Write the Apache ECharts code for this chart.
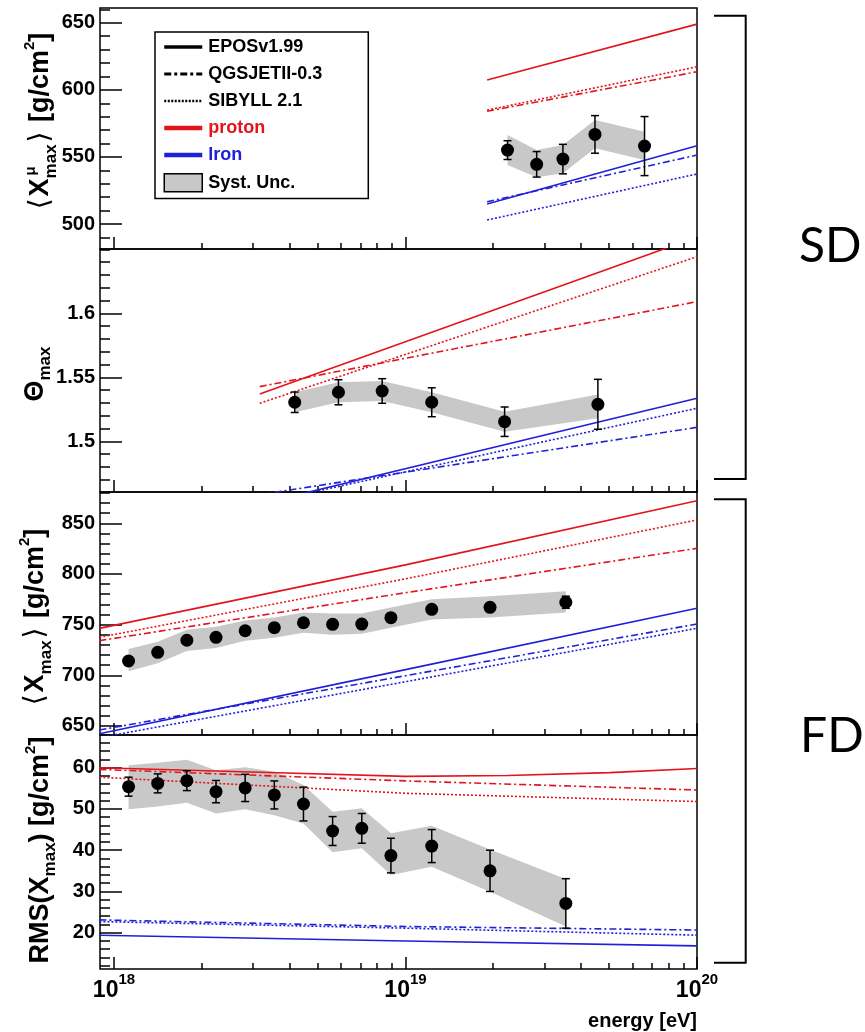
<!DOCTYPE html>
<html><head><meta charset="utf-8">
<script src="https://cdn.jsdelivr.net/npm/echarts@6/dist/echarts.min.js"></script>
<style>html,body{margin:0;padding:0;background:#fff}#c{width:865px;height:1032px}</style>
</head><body><div id="c"></div>
<script>
// ================= DATA =================
// x axis: log10(energy / eV)
const xDecades = [18, 19, 20];
const xDecadeLabels = ['18', '19', '20'];
const xMinorMult = [2, 3, 4, 5, 6, 7, 8, 9];

// ---- Panel 1 : SD <X^mu_max> [g/cm2]
const p1Ticks = [500, 550, 600, 650];
const p1TickLabels = ['500', '550', '600', '650'];
const p1E = [19.35, 19.45, 19.54, 19.65, 19.82];
const p1Val = [555.1, 544.5, 548.4, 566.8, 558.1];
const p1Err = [7, 9.5, 11, 14, 22];
const p1SysLo = [544.0, 534.8, 537.8, 556.4, 547.7];
const p1SysHi = [566.3, 555.1, 558.9, 577.5, 568.8];
const p1ModelE = [19.28, 20.0];
const p1EposP = [607.3, 649.0];
const p1QgsP = [584.0, 613.5];
const p1SibP = [584.9, 617.2];
const p1EposFe = [514.9, 558.3];
const p1QgsFe = [516.6, 551.4];
const p1SibFe = [503.0, 537.3];

// ---- Panel 2 : SD Theta_max
const p2Ticks = [1.5, 1.55, 1.6];
const p2TickLabels = ['1.5', '1.55', '1.6'];
const p2E = [18.62, 18.77, 18.92, 19.09, 19.34, 19.66];
const p2Val = [1.5305, 1.5383, 1.5393, 1.5305, 1.5153, 1.5289];
const p2Err = [0.008, 0.0098, 0.0096, 0.0113, 0.0115, 0.0195];
const p2SysLo = [1.5227, 1.5305, 1.5315, 1.5227, 1.5075, 1.5180];
const p2SysHi = [1.5383, 1.5461, 1.5471, 1.5383, 1.5231, 1.5365];
const p2ModelE = [18.5, 20.0];
const p2EposP = [1.5370, 1.6595];
const p2QgsP = [1.5427, 1.6091];
const p2SibP = [1.5297, 1.6442];
const p2EposFe = [1.4511, 1.5336];
const p2QgsFe = [1.4584, 1.5109];
const p2SibFe = [1.4513, 1.5258];

// ---- Panel 3 : FD <X_max> [g/cm2]
const p3Ticks = [650, 700, 750, 800, 850];
const p3TickLabels = ['650', '700', '750', '800', '850'];
const fdE = [18.05, 18.15, 18.25, 18.35, 18.45, 18.55, 18.65, 18.75, 18.85, 18.95, 19.09, 19.29, 19.55];
const p3Val = [714.1, 722.7, 734.6, 737.5, 744.0, 747.0, 751.9, 750.3, 750.6, 756.9, 765.1, 767.1, 772.1];
const p3Err = [2.5, 2.5, 2.5, 2.5, 2.5, 2.5, 2.5, 2.5, 3, 3, 3, 4, 6];
const p3SysLo = [704, 712, 724, 727, 734, 737, 742, 740, 741, 747, 755, 757, 762];
const p3SysHi = [726, 733, 745, 748, 754, 757, 762, 761, 761, 767, 775, 778, 783];
const p3ModelE = [17.95, 19.0, 20.0];
const p3EposP = [746.3, 809.0, 872.3];
const p3QgsP = [734.2, 781.5, 825.3];
const p3SibP = [737.5, 795.2, 853.3];
const p3EposFe = [642.4, 705.6, 766.1];
const p3QgsFe = [646.1, 699.6, 750.6];
const p3SibFe = [638.5, 693.7, 746.4];

// ---- Panel 4 : FD RMS(X_max) [g/cm2]
const p4Ticks = [20, 30, 40, 50, 60];
const p4TickLabels = ['20', '30', '40', '50', '60'];
const p4Val = [55.4, 56.2, 56.85, 54.2, 55.1, 53.4, 51.2, 44.65, 45.3, 38.7, 41.0, 35.0, 27.1];
const p4Err = [2.3, 2.3, 2.4, 2.7, 3.3, 3.4, 4.1, 3.5, 3.6, 4.2, 4.0, 5.0, 6.0];
const p4SysLo = [49.9, 50.6, 51.5, 48.9, 49.9, 48.5, 46.5, 39.5, 40.5, 34.0, 36.0, 29.9, 21.5];
const p4SysHi = [60.6, 61.2, 61.9, 59.4, 60.1, 59.0, 55.8, 49.3, 50.2, 44.1, 45.9, 40.2, 33.0];
const p4EposPE = [17.95, 18.5, 19.0, 19.35, 19.7, 20.0];
const p4EposP = [60.0, 58.9, 57.9, 58.1, 58.8, 59.8];
const p4ModelE = [17.95, 19.0, 20.0];
const p4QgsP = [59.6, 56.8, 54.6];
const p4SibP = [57.7, 53.8, 51.8];
const p4EposFe = [19.4, 18.0, 16.8];
const p4QgsFe = [23.1, 21.5, 20.65];
const p4SibFe = [22.7, 21.1, 19.4];

// ================= STYLE / LAYOUT =================
const FONT = 'Liberation Sans';
const RED = '#e3141c', BLUE = '#2020d8', GREY = '#c8c8c8';
const DASHDOT = [7, 3, 2, 3], DOT = [2, 2];
const X_MIN = 17.952, X_MAX = 20.0;

const panels = [
  {top: 8,   height: 241, min: 481.4, max: 661.0, ticks: p1Ticks, labels: p1TickLabels, minor: [480, 670, 10]},
  {top: 249, height: 243, min: 1.4604, max: 1.6502, ticks: p2Ticks, labels: p2TickLabels, minor: [1.46, 1.66, 0.01]},
  {top: 492, height: 243, min: 641.1, max: 880.9, ticks: p3Ticks, labels: p3TickLabels, minor: [640, 890, 10]},
  {top: 735, height: 234, min: 11.2, max: 67.93, ticks: p4Ticks, labels: p4TickLabels, minor: [12, 68, 2]}
];

function minorTicks(p) {
  const out = [];
  const [a, b, s] = p.minor;
  const n = Math.round((b - a) / s);
  for (let i = 0; i <= n; i++) {
    const v = +(a + i * s).toFixed(6);
    if (v > p.min && v < p.max && p.ticks.every(t => Math.abs(t - v) > s / 10)) out.push(v);
  }
  return out;
}
const xMinorTicks = [];
xDecades.forEach(d => xMinorMult.forEach(m => {
  const v = d + Math.log10(m);
  if (v > X_MIN && v < X_MAX) xMinorTicks.push(v);
}));

const grid = [], xAxis = [], yAxis = [];
panels.forEach((p, i) => {
  grid.push({left: 100, width: 597, top: p.top, height: p.height, show: true,
    borderColor: '#000', borderWidth: 1.5, backgroundColor: 'rgba(0,0,0,0)'});
  const last = i === panels.length - 1;
  xAxis.push({type: 'value', gridIndex: i, min: X_MIN, max: X_MAX, position: 'bottom',
    axisLine: {show: false}, splitLine: {show: false},
    axisTick: {show: true, inside: true, length: 12, customValues: xDecades, lineStyle: {color: '#000', width: 1.5}},
    axisLabel: {show: last, customValues: xDecades, margin: 3,
      formatter: v => '{b|10}{s|' + xDecadeLabels[xDecades.indexOf(Math.round(v))] + '}',
      rich: {
        b: {fontSize: 23, fontWeight: 'bold', fontFamily: FONT, color: '#000', padding: [7, 0, 0, 0]},
        s: {fontSize: 15, fontWeight: 'bold', fontFamily: FONT, color: '#000', verticalAlign: 'top'}
      }}
  });
  xAxis.push({type: 'value', gridIndex: i, min: X_MIN, max: X_MAX, position: 'bottom',
    axisLine: {show: false}, splitLine: {show: false}, axisLabel: {show: false},
    axisTick: {show: true, inside: true, length: 6, customValues: xMinorTicks, lineStyle: {color: '#000', width: 1.5}}
  });
  yAxis.push({type: 'value', gridIndex: i, min: p.min, max: p.max, position: 'left',
    axisLine: {show: false}, splitLine: {show: false},
    axisTick: {show: true, inside: true, length: 22, customValues: p.ticks, lineStyle: {color: '#000', width: 1.5}},
    axisLabel: {customValues: p.ticks, margin: 5, fontSize: 20, fontWeight: 'bold', fontFamily: FONT, color: '#000',
      formatter: v => { const k = p.ticks.findIndex(t => Math.abs(t - v) < 1e-6); return k >= 0 ? p.labels[k] : ''; }}
  });
  yAxis.push({type: 'value', gridIndex: i, min: p.min, max: p.max, position: 'left',
    axisLine: {show: false}, splitLine: {show: false}, axisLabel: {show: false},
    axisTick: {show: true, inside: true, length: 10, customValues: minorTicks(p), lineStyle: {color: '#000', width: 1.5}}
  });
});

const zip = (xs, ys) => xs.map((x, k) => [x, ys[k]]);
const zip3 = (xs, a, b) => xs.map((x, k) => [x, a[k], b[k]]);

function bandItem(params, api) {
  if (params.dataIndexInside !== 0) return null;
  const n = params.dataInsideLength;
  const up = [], lo = [];
  for (let k = 0; k < n; k++) {
    const x = api.value(0, k);
    up.push(api.coord([x, api.value(2, k)]));
    lo.push(api.coord([x, api.value(1, k)]));
  }
  return {type: 'polygon', shape: {points: up.concat(lo.reverse())}, style: {fill: GREY}};
}
function errItem(params, api) {
  const x = api.value(0), y = api.value(1), e = api.value(2);
  const t = api.coord([x, y + e]), b = api.coord([x, y - e]);
  const w = 4, st = {stroke: '#000', lineWidth: 1.5};
  return {type: 'group', children: [
    {type: 'line', shape: {x1: t[0], y1: t[1], x2: b[0], y2: b[1]}, style: st},
    {type: 'line', shape: {x1: t[0] - w, y1: t[1], x2: t[0] + w, y2: t[1]}, style: st},
    {type: 'line', shape: {x1: b[0] - w, y1: b[1], x2: b[0] + w, y2: b[1]}, style: st}
  ]};
}

const series = [];
function modelLine(i, name, xs, ys, color, type) {
  series.push({type: 'line', name, xAxisIndex: 2 * i, yAxisIndex: 2 * i, data: zip(xs, ys),
    symbol: 'none', clip: true, silent: true, z: 3,
    lineStyle: {color, width: 1.6, type}});
}
function panelData(i, E, val, err, lo, hi) {
  series.push({type: 'custom', name: 'band' + i, xAxisIndex: 2 * i, yAxisIndex: 2 * i,
    data: zip3(E, lo, hi), encode: {x: 0, y: [1, 2]}, renderItem: bandItem, z: 1, silent: true});
  series.push({type: 'custom', name: 'err' + i, xAxisIndex: 2 * i, yAxisIndex: 2 * i,
    data: zip3(E, val, err), encode: {x: 0, y: 1}, renderItem: errItem, z: 5, silent: true});
  series.push({type: 'scatter', name: 'data' + i, xAxisIndex: 2 * i, yAxisIndex: 2 * i,
    data: zip(E, val), symbol: 'circle', symbolSize: 13, itemStyle: {color: '#000', opacity: 1}, z: 6, silent: true});
}
function models(i, E, eposP, qgsP, sibP, eposFe, qgsFe, sibFe, eposPE) {
  modelLine(i, 'eposP' + i, eposPE || E, eposP, RED, 'solid');
  modelLine(i, 'qgsP' + i, E, qgsP, RED, DASHDOT);
  modelLine(i, 'sibP' + i, E, sibP, RED, DOT);
  modelLine(i, 'eposFe' + i, E, eposFe, BLUE, 'solid');
  modelLine(i, 'qgsFe' + i, E, qgsFe, BLUE, DASHDOT);
  modelLine(i, 'sibFe' + i, E, sibFe, BLUE, DOT);
}
panelData(0, p1E, p1Val, p1Err, p1SysLo, p1SysHi);
models(0, p1ModelE, p1EposP, p1QgsP, p1SibP, p1EposFe, p1QgsFe, p1SibFe);
panelData(1, p2E, p2Val, p2Err, p2SysLo, p2SysHi);
models(1, p2ModelE, p2EposP, p2QgsP, p2SibP, p2EposFe, p2QgsFe, p2SibFe);
panelData(2, fdE, p3Val, p3Err, p3SysLo, p3SysHi);
models(2, p3ModelE, p3EposP, p3QgsP, p3SibP, p3EposFe, p3QgsFe, p3SibFe);
panelData(3, fdE, p4Val, p4Err, p4SysLo, p4SysHi);
models(3, p4ModelE, p4EposP, p4QgsP, p4SibP, p4EposFe, p4QgsFe, p4SibFe, p4EposPE);

// legend-only series (no data)
const legendEntries = [
  {name: 'EPOSv1.99', color: '#000', type: 'solid', width: 3.5},
  {name: 'QGSJETII-0.3', color: '#000', type: [7, 3, 3, 3], width: 3},
  {name: 'SIBYLL 2.1', color: '#000', type: [2, 1.5], width: 2.5},
  {name: 'proton', color: RED, type: 'solid', width: 4.5},
  {name: 'Iron', color: BLUE, type: 'solid', width: 4.5},
  {name: 'Syst. Unc.', color: GREY, type: 'solid', width: 1}
];
legendEntries.forEach(l => series.push({type: 'line', name: l.name, data: [], xAxisIndex: 0, yAxisIndex: 0,
  symbol: 'none', itemStyle: {color: l.color}, lineStyle: {color: l.color, type: l.type, width: l.width}}));
const legendData = legendEntries.map(l => {
  const d = {name: l.name, lineStyle: {color: l.color, type: l.type, width: l.width}};
  if (l.name === 'proton') d.textStyle = {color: RED};
  if (l.name === 'Iron') d.textStyle = {color: BLUE};
  if (l.name === 'Syst. Unc.') { d.icon = 'rect'; d.itemStyle = {color: GREY, borderColor: '#000', borderWidth: 1.5}; }
  return d;
});

// axis titles (rotated, rich text)
const titleRich = {
  b: {fontSize: 27, fontWeight: 'bold', fontFamily: FONT, fill: '#000', padding: [4, 0, 5, 0]},
  br: {fontSize: 28, fontFamily: 'DejaVu Sans', fill: '#000', padding: [4, 2, 5, 2]},
  sub: {fontSize: 17, fontWeight: 'bold', fontFamily: FONT, fill: '#000', verticalAlign: 'bottom'},
  sup: {fontSize: 15, fontWeight: 'bold', fontFamily: FONT, fill: '#000', verticalAlign: 'top'}
};
function yTitle(text, x, y) {
  return {type: 'text', x, y, rotation: Math.PI / 2, silent: true,
    style: {text, rich: titleRich, align: 'center', verticalAlign: 'middle'}};
}
const graphic = [
  yTitle('{br|⟨}{b|X}{sub|max}{br|⟩}{b| [g/cm}{sup|2}{b|]}', 41, 122),
  {type: 'text', x: 31, y: 171, rotation: Math.PI / 2, silent: true,
    style: {text: 'μ', fontSize: 15, fontWeight: 'bold', fontFamily: FONT, fill: '#000', align: 'center', verticalAlign: 'middle'}},
  yTitle('{b|Θ}{sub|max}', 36, 374),
  yTitle('{br|⟨}{b|X}{sub|max}{br|⟩}{b| [g/cm}{sup|2}{b|]}', 36, 618),
  yTitle('{b|RMS(X}{sub|max}{b|) [g/cm}{sup|2}{b|]}', 41, 850),
  {type: 'text', x: 697, y: 1021, silent: true,
    style: {text: 'energy [eV]', fontSize: 20, fontWeight: 'bold', fontFamily: FONT, fill: '#000', align: 'right', verticalAlign: 'middle'}},
  {type: 'polyline', silent: true, shape: {points: [[714, 15.7], [745.7, 15.7], [745.7, 479], [714, 479]]},
    style: {stroke: '#000', lineWidth: 2, fill: null}},
  {type: 'polyline', silent: true, shape: {points: [[714, 499.3], [745.7, 499.3], [745.7, 962.7], [714, 962.7]]},
    style: {stroke: '#000', lineWidth: 2, fill: null}},
  {type: 'text', x: 799, y: 247, silent: true,
    style: {text: 'SD', fontSize: 48, fontWeight: 'normal', fontFamily: 'Lato', fill: '#000', align: 'left', verticalAlign: 'middle'}},
  {type: 'text', x: 800, y: 737, silent: true,
    style: {text: 'FD', fontSize: 48, fontWeight: 'normal', fontFamily: 'Lato', fill: '#000', align: 'left', verticalAlign: 'middle'}}
];

const chart = echarts.init(document.getElementById('c'), null, {renderer: 'canvas'});
chart.setOption({
  animation: false,
  backgroundColor: '#fff',
  grid, xAxis, yAxis, series, graphic,
  legend: {
    left: 155, top: 32, orient: 'vertical', itemWidth: 38, itemHeight: 18, itemGap: 9,
    padding: [6, 46, 6, 7], borderColor: '#000', borderWidth: 1.5, backgroundColor: '#fff',
    selectedMode: false, z: 10,
    itemStyle: {color: 'rgba(0,0,0,0)', borderWidth: 0},
    textStyle: {fontSize: 18, fontWeight: 'bold', color: '#000', fontFamily: FONT, padding: [0, 0, 0, 1]},
    data: legendData
  }
});
</script>
</body></html>
